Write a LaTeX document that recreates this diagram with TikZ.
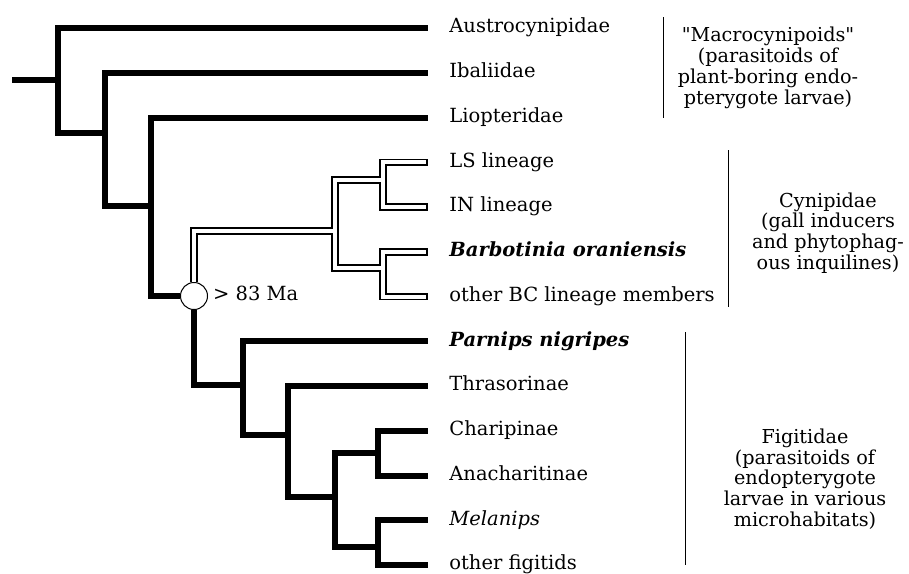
\documentclass[tikz,border=0pt]{standalone}
\usepackage{fontspec}
\setmainfont{DejaVu Serif}
\usetikzlibrary{positioning}

\begin{document}
\begin{tikzpicture}[x=1pt,y=-1pt,node distance=44.75pt,label distance=21pt,
  branch/.style={line width=6pt,line join=miter},
  elbow/.style={to path={|- (\tikztotarget)}},
  tip/.style={inner sep=0pt,minimum size=0pt},
  every label/.style={inner sep=0pt,text height=14pt,text depth=4.5pt,
    font=\fontsize{19.5}{19.5}\selectfont},
  age node/.style={circle,draw,fill=white,line width=1pt,minimum size=27pt,inner sep=0pt},
  group/.style={align=center,font=\fontsize{19.2}{20.8}\selectfont},
  bracket/.style={line width=0.8pt}]

  \useasboundingbox (0,0) rectangle (909,573);

  \node[tip] (austro) at (428,28) [label=right:Austrocynipidae] {};
  \node[tip] (ibal) [below of=austro, label=right:Ibaliidae] {};
  \node[tip] (liop) [below of=ibal, label=right:Liopteridae] {};
  \node[tip] (ls) [below of=liop, label=right:LS lineage] {};
  \node[tip] (in) [below of=ls, label=right:IN lineage] {};
  \node[tip] (barb) [below of=in, label={right:\textbf{\textit{Barbotinia oraniensis}}}] {};
  \node[tip] (obc) [below of=barb, label=right:other BC lineage members] {};
  \node[tip] (parn) [below of=obc, label={right:\textbf{\textit{Parnips nigripes}}}] {};
  \node[tip] (thras) [below of=parn, label=right:Thrasorinae] {};
  \node[tip] (chari) [below of=thras, label=right:Charipinae] {};
  \node[tip] (anach) [below of=chari, label=right:Anacharitinae] {};
  \node[tip] (melan) [below of=anach, label={right:\textit{Melanips}}] {};
  \node[tip] (ofig) [below of=melan, label=right:other figitids] {};

  \coordinate (root) at (12,80);
  \coordinate (n1) at (58,80);
  \coordinate (n2) at (105,133);
  \coordinate (n3) at (151,206);
  \node[age node] (crown) at (194,296) {};
  \node[inner sep=0pt,text height=14pt,text depth=4.5pt,font=\fontsize{19.5}{19.5}\selectfont,
    right=5pt of crown] (age) {> 83 Ma};
  \coordinate (c1) at (335,231);
  \coordinate (c2) at (383,180);
  \coordinate (c3) at (383,268);
  \coordinate (f1) at (243,385);
  \coordinate (f2) at (288,435);
  \coordinate (f3) at (335,497);
  \coordinate (f4) at (378,453);
  \coordinate (f5) at (378,547);

  \path[branch]
    (root) edge (n1)
    (n1) edge[elbow] (austro) edge[elbow] (n2)
    (n2) edge[elbow] (ibal) edge[elbow] (n3)
    (n3) edge[elbow] (liop) edge[elbow] (crown)
    (crown) edge[elbow] (f1)
    (f1) edge[elbow] (parn) edge[elbow] (f2)
    (f2) edge[elbow] (thras) edge[elbow] (f3)
    (f3) edge[elbow] (f4) edge[elbow] (f5)
    (f4) edge[elbow] (chari) edge[elbow] (anach)
    (f5) edge[elbow] (melan) edge[elbow] (ofig);

  \foreach \w/\c/\s in {7.5/black/0,4/white/1.75}
    \path[line width=\w pt,\c,line join=miter]
      (crown) edge[elbow] (c1)
      (c1) edge[elbow] (c2) edge[elbow] (c3)
      (c2) edge[elbow,shorten >=\s pt] (ls) edge[elbow,shorten >=\s pt] (in)
      (c3) edge[elbow,shorten >=\s pt] (barb) edge[elbow,shorten >=\s pt] (obc);

  \node[group] (macro) at (768,68) {\textquotedbl Macrocynipoids\textquotedbl\\(parasitoids of\\plant-boring endo-\\pterygote larvae)};
  \node[group] (cyni) at (828,233) {Cynipidae\\(gall inducers\\and phytophag-\\ous inquilines)};
  \node[group] (figi) at (805,479) {Figitidae\\(parasitoids of\\endopterygote\\larvae in various\\microhabitats)};

  \coordinate (m1) at (663,17);
  \coordinate (m2) at (663,118);
  \coordinate (y1) at (728,150);
  \coordinate (y2) at (728,307);
  \coordinate (g1) at (685,332);
  \coordinate (g2) at (685,565);
  \draw[bracket] (m1) -- (m2);
  \draw[bracket] (y1) -- (y2);
  \draw[bracket] (g1) -- (g2);
\end{tikzpicture}
\end{document}
